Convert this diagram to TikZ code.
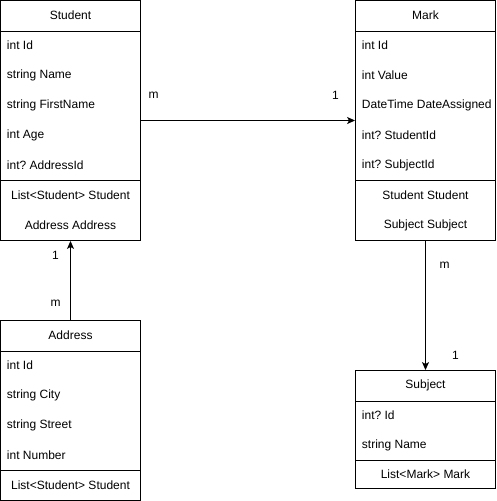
\documentclass[tikz,border=0pt]{standalone}
\usepackage{fontspec}
\setmainfont{Liberation Sans}
\frenchspacing
\usepackage{tikz}
\usetikzlibrary{arrows.meta, positioning, calc}

\begin{document}
\begin{tikzpicture}[x=1pt, y=-1pt, line width=0.9pt,
    every node/.style={font=\fontsize{12}{14}\selectfont},
    classbox/.style={draw, minimum width=140pt, inner sep=0pt},
    title/.style={minimum width=140pt, minimum height=30pt, inner sep=0pt},
    field/.style={anchor=west, minimum height=30pt, inner sep=0pt},
    method/.style={minimum width=140pt, minimum height=30pt, inner sep=0pt},
    card/.style={inner sep=0pt},
    link/.style={-{Stealth[length=8pt, width=7pt, inset=2pt]}}]
    \useasboundingbox (-0.5,-0.5) rectangle (495.5,500.5);

    % Student
    \node[classbox, minimum height=240pt] (Student) at (70,120) {};
    \node[title] (StudentT) at (70,15) {Student};
    \foreach \t [count=\i] in {int Id, string Name, string FirstName, int Age, int? AddressId} {
        \node[field] (StudentF\i) at (6,15+30*\i) {\t};
    }
    \node[method] (StudentM1) at (70,195) {List<Student> Student};
    \node[method] (StudentM2) at (70,225) {Address Address};
    \draw (Student.west |- StudentT.south) -- (Student.east |- StudentT.south);
    \draw (Student.west |- StudentM1.north) -- (Student.east |- StudentM1.north);

    % Mark
    \node[classbox, minimum height=240pt] (Mark) at (425,120) {};
    \node[title] (MarkT) at (425,15) {Mark};
    \foreach \t [count=\i] in {int Id, int Value, DateTime DateAssigned, int? StudentId, int? SubjectId} {
        \node[field] (MarkF\i) at (361,15+30*\i) {\t};
    }
    \node[method] (MarkM1) at (425,195) {Student Student};
    \node[method] (MarkM2) at (425,225) {Subject Subject};
    \draw (Mark.west |- MarkT.south) -- (Mark.east |- MarkT.south);
    \draw (Mark.west |- MarkM1.north) -- (Mark.east |- MarkM1.north);

    % Address
    \node[classbox, minimum height=180pt] (Address) at (70,410) {};
    \node[title] (AddressT) at (70,335) {Address};
    \foreach \t [count=\i] in {int Id, string City, string Street, int Number} {
        \node[field] (AddressF\i) at (6,335+30*\i) {\t};
    }
    \node[method] (AddressM1) at (70,485) {List<Student> Student};
    \draw (Address.west |- AddressT.south) -- (Address.east |- AddressT.south);
    \draw (Address.west |- AddressM1.north) -- (Address.east |- AddressM1.north);

    % Subject
    \node[classbox, minimum height=118pt] (Subject) at (425,429) {};
    \node[title] (SubjectT) at (425,385) {Subject};
    \foreach \t [count=\i] in {int? Id, string Name} {
        \node[field] (SubjectF\i) at (361,385+30*\i) {\t};
    }
    \node[method, minimum height=28pt] (SubjectM1) at (425,474) {List<Mark> Mark};
    \draw (Subject.west |- SubjectT.south) -- (Subject.east |- SubjectT.south);
    \draw (Subject.west |- SubjectM1.north) -- (Subject.east |- SubjectM1.north);

    % Relations
    \draw[link] (Student) -- (Mark);
    \draw[link] (Address.north) -- (Student.south);
    \draw[link] (Mark.south) -- (Subject.north);

    % Multiplicities
    \node[card] (c1) at (153,95) {m};
    \node[card] (c2) at (335,95) {1};
    \node[card] (c3) at (55,255) {1};
    \node[card] (c4) at (55,303) {m};
    \node[card] (c5) at (444,265) {m};
    \node[card] (c6) at (455,355) {1};
\end{tikzpicture}
\end{document}
